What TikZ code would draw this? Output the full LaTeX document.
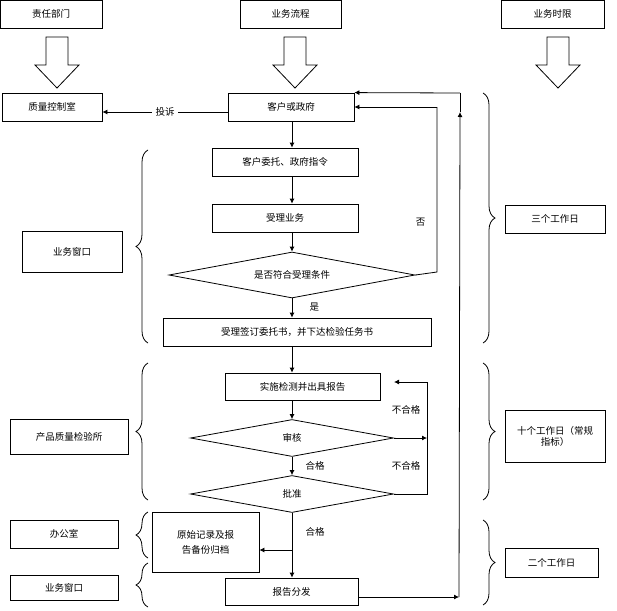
\documentclass[tikz,border=0pt]{standalone}
\usepackage{fontspec}
\setmainfont{Noto Sans CJK SC}
\usetikzlibrary{shapes.geometric,decorations.pathreplacing,arrows.meta}
\begin{document}
\begin{tikzpicture}[x=1pt,y=-1pt,font=\fontsize{9.5}{11}\selectfont,
 box/.style={draw,thick,inner sep=0pt},
 dia/.style={draw,thick,diamond,aspect=5.5,inner sep=0pt},
 ar/.style={thick,-{Latex[length=5pt,width=5pt]}},
 ln/.style={thick},
 br/.style={thick,decorate,decoration={brace,amplitude=12pt,raise=0pt}},
 hollow/.style={thick}]
\useasboundingbox (0,0) rectangle (617,610);
\newcommand{\bx}[6]{\node[box,minimum width=#4-#2,minimum height=#5-#3,align=center] (#1) at ({(#2+#4)/2},{(#3+#5)/2}) {#6};}
\bx{h1}{0}{0}{102}{28}{责任部门}
\bx{h2}{240}{0}{341}{28}{业务流程}
\bx{h3}{501}{0}{604}{28}{业务时限}
\foreach \c in {57,295,558}{
 \draw[hollow] (\c-11,37) -- (\c+11,37) -- (\c+11,65) -- (\c+22,65) -- (\c,88) -- (\c-22,65) -- (\c-11,65) -- cycle;}
\bx{qc}{2}{93}{102}{121}{质量控制室}
\bx{cust}{228}{93}{354}{121}{客户或政府}
\bx{wt}{212}{148}{358}{176}{客户委托、政府指令}
\bx{sl}{212}{204}{358}{232}{受理业务}
\node[dia,minimum width=246,minimum height=46] (d1) at (292,275) {是否符合受理条件};
\bx{qd}{163}{318}{431}{346}{受理签订委托书，并下达检验任务书}
\bx{ss}{225}{373}{380}{400}{实施检测并出具报告}
\node[dia,minimum width=203,minimum height=37] (sh) at (292,438) {审核};
\node[dia,minimum width=203,minimum height=37] (pz) at (292,494) {批准};
\bx{yz}{152}{512}{259}{572}{原始记录及报\\[4pt]告备份归档}
\bx{ff}{225}{578}{358}{605}{报告分发}
\bx{l1}{22}{231}{122}{272}{业务窗口}
\bx{l2}{10}{419}{128}{454}{产品质量检验所}
\bx{l3}{10}{520}{118}{548}{办公室}
\bx{l4}{10}{575}{118}{600}{业务窗口}
\bx{r1}{505}{205}{605}{233}{三个工作日}
\bx{r2}{505}{410}{605}{462}{十个工作日（常规\\指标）}
\bx{r3}{505}{548}{598}{577}{二个工作日}
% main flow (column x = 292)
\draw[ar] (cust.south -| d1) -- (wt.north -| d1);
\draw[ar] (wt.south -| d1) -- (sl.north -| d1);
\draw[ar] (sl.south -| d1) -- (d1);
\draw[ar] (d1) -- node[pos=0.45,right=14pt]{是} (qd.north -| d1);
\draw[ar] (qd.south -| d1) -- (ss.north -| d1);
\draw[ar] (ss.south -| d1) -- (sh);
\draw[ar] (sh) -- node[right=10pt]{合格} (pz);
\draw[ar] (pz) -- node[pos=0.3,right=10pt]{合格} (ff.north -| d1);
\coordinate (m) at (292,550);
\draw[ar] (m) -- (yz.east |- m);
\draw[ar] (cust.west |- 0,112) -- node[fill=white]{投诉} (qc.east |- 0,112);
% loops
\coordinate (a1) at (437,272);
\coordinate (a2) at (437,107);
\draw[ln] (d1.east) -- (a1) -- node[pos=0.3,left=8pt]{否} (a2);
\draw[ar] (a2) -- (cust.east |- a2);
\coordinate (b1) at (459,597);
\coordinate (b2) at (460,93);
\draw[ar] (ff.east |- b1) -- (b1);
\draw[ar] (b1) -- (460,112);
\draw[ln] (460,112) -- (b2);
\draw[ar] (b2) -- (cust.north east);
\coordinate (c1) at (427,438);
\coordinate (c2) at (427,382);
\draw[ln] (pz.east) -- (427,494) -- node[pos=0.5,left=3pt]{不合格} (c1);
\draw[ar] (sh.east) -- (c1);
\draw[ln] (c1) -- node[pos=0.5,left=3pt]{不合格} (c2);
\draw[ar] (c2) -- (394,382);
% braces
\draw[br] (148,343) -- (148,150);
\draw[br] (148,500) -- (148,363);
\draw[br] (148,558) -- (148,512);
\draw[br] (148,607) -- (148,563);
\draw[br] (483,93) -- (483,343);
\draw[br] (483,363) -- (483,500);
\draw[br] (483,520) -- (483,605);
\end{tikzpicture}
\end{document}
